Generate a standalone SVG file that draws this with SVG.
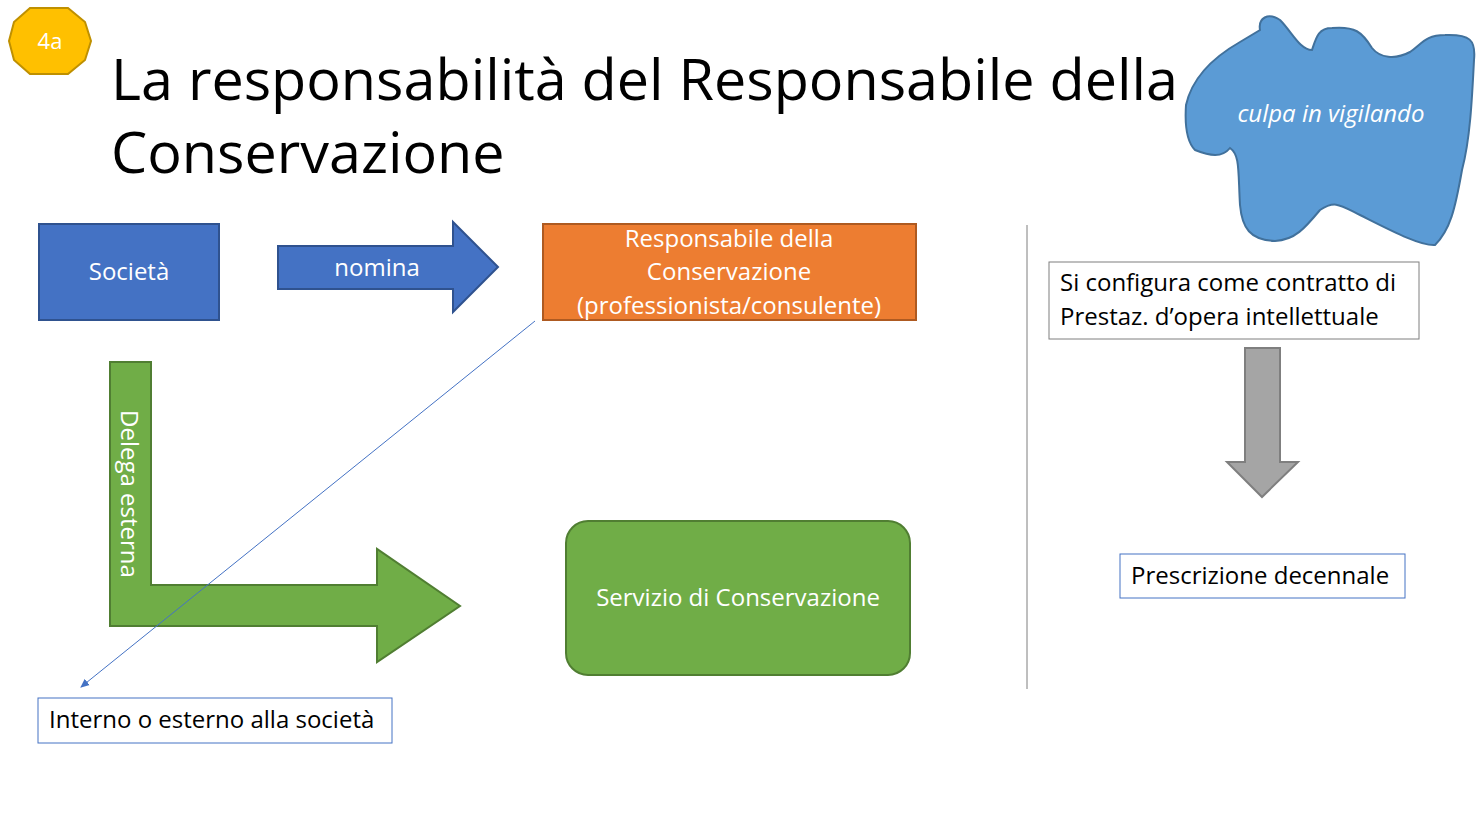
<svg xmlns="http://www.w3.org/2000/svg" width="1476" height="821" viewBox="0 0 1476 821">
<style>
text{font-family:"Open Sans","Noto Sans","Liberation Sans",sans-serif}
.w{fill:#fff;font-size:24px}
.k{fill:#000;font-size:24px}
.box{fill:#fff;stroke:#4472c4;stroke-width:1}
</style>
<defs><marker id="ah" markerWidth="10" markerHeight="10" refX="8" refY="5" orient="auto" markerUnits="userSpaceOnUse"><path d="M0,1 L9,5 L0,9 Z" fill="#4472c4"/></marker></defs>
<rect width="1476" height="821" fill="#fff"/>
<g id="badge"><polygon points="30,8 68,8 85,22 91,41 85,60 68,74 30,74 14,60 9,41 14,22" fill="#ffc000" stroke="#bf9000" stroke-width="2"/><text x="50" y="49" text-anchor="middle" fill="#fff" font-size="22">4a</text></g>
<g id="title"><text x="111" y="100" font-size="57.5">La responsabilità del Responsabile della</text><text x="111" y="173" font-size="57.5">Conservazione</text></g>
<g id="blob"><path d="M1260,30 C1258,18 1268,12 1280,20 C1292,32 1300,50 1312,50 C1316,38 1318,28 1332,28 C1355,26 1362,32 1372,48 C1380,58 1395,60 1410,52 C1422,44 1425,35 1445,35 C1470,34 1476,40 1474,60 C1472,100 1470,140 1462,170 C1455,210 1450,230 1435,245 C1420,246 1390,230 1360,215 C1340,205 1335,200 1320,210 C1305,228 1295,240 1275,241 C1250,240 1242,228 1240,205 C1238,170 1240,155 1230,148 C1222,158 1210,156 1195,150 C1185,140 1185,120 1186,105 C1192,78 1212,58 1240,42 Z" fill="#5b9bd5" stroke="#41719c" stroke-width="2"/><text x="1331" y="122" text-anchor="middle" class="w" font-style="italic">culpa in vigilando</text></g>
<g id="societa"><rect x="39" y="224" width="180" height="96" fill="#4472c4" stroke="#2f528f" stroke-width="2"/><text x="129" y="280" text-anchor="middle" class="w">Società</text></g>
<g id="nomina"><polygon points="278,246 453,246 453,222 498,267 453,312 453,289 278,289" fill="#4472c4" stroke="#2f528f" stroke-width="2"/><text x="377" y="276" text-anchor="middle" class="w">nomina</text></g>
<g id="responsabile"><rect x="543" y="224" width="373" height="96" fill="#ed7d31" stroke="#ae5a21" stroke-width="2"/><text x="729" y="247" text-anchor="middle" class="w">Responsabile della</text><text x="729" y="280" text-anchor="middle" class="w">Conservazione</text><text x="729" y="314" text-anchor="middle" class="w">(professionista/consulente)</text></g>
<g id="delega"><polygon points="110,362 151,362 151,585 377,585 377,549 460,606 377,662 377,626 110,626" fill="#70ad47" stroke="#507e32" stroke-width="2"/><text transform="translate(121,410) rotate(90)" class="w">Delega esterna</text></g>
<g id="servizio"><rect x="566" y="521" width="344" height="154" rx="22" fill="#70ad47" stroke="#507e32" stroke-width="2"/><text x="738" y="606" text-anchor="middle" class="w">Servizio di Conservazione</text></g>
<g id="interno"><rect x="38" y="698" width="354" height="45" class="box"/><text x="49" y="728" class="k">Interno o esterno alla società</text></g>
<g id="contratto"><rect x="1049" y="262" width="370" height="77" fill="#fff" stroke="#7f7f7f" stroke-width="1"/><text x="1060" y="291" class="k">Si configura come contratto di</text><text x="1060" y="325" class="k">Prestaz. d’opera intellettuale</text></g>
<g id="grey"><polygon points="1245,348 1280,348 1280,462 1298,462 1262,497 1227,462 1245,462" fill="#a5a5a5" stroke="#7f7f7f" stroke-width="2"/></g>
<g id="prescrizione"><rect x="1120" y="554" width="285" height="44" class="box"/><text x="1131" y="584" class="k">Prescrizione decennale</text></g>
<g id="connectors"><line x1="535" y1="321" x2="81" y2="687" stroke="#4472c4" stroke-width="1" marker-end="url(#ah)"/><line x1="1027" y1="225" x2="1027" y2="689" stroke="#7f7f7f" stroke-width="1"/></g>
</svg>
